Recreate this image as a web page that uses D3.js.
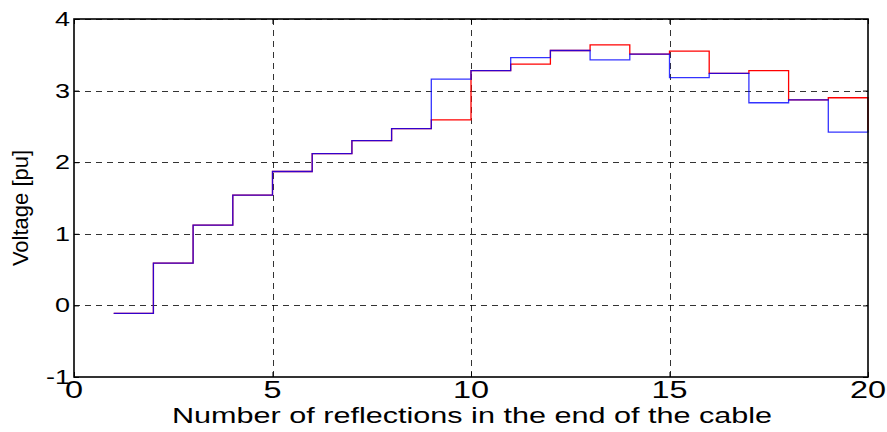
<!DOCTYPE html>
<html>
<head>
<meta charset="utf-8">
<script src="https://cdn.jsdelivr.net/npm/d3@7"></script>
<style>
  html, body { margin: 0; padding: 0; background: #fff; }
  svg { display: block; }
  text { font-family: "Liberation Sans", Arial, sans-serif; fill: #000; }
</style>
</head>
<body>
<svg id="chart" width="887" height="432"></svg>
<script>
// Reflection index (stairs drawn from n to n+1 at each value)
const reflections = d3.range(1, 21);
// Voltage after each reflection, two cases
const voltageRed  = [-0.11, 0.59, 1.12, 1.54, 1.87, 2.12, 2.30, 2.47, 2.59, 3.28,
                      3.37, 3.56, 3.64, 3.51, 3.55, 3.24, 3.28, 2.87, 2.90, 2.45];
const voltageBlue = [-0.11, 0.59, 1.12, 1.54, 1.87, 2.12, 2.30, 2.47, 3.16, 3.28,
                      3.46, 3.56, 3.43, 3.51, 3.18, 3.24, 2.83, 2.87, 2.42, 2.45];
const xTicks = [0, 5, 10, 15, 20];
const yTicks = [-1, 0, 1, 2, 3, 4];

const svg = d3.select("#chart");
const plotLeft = 74, plotRight = 868, plotTop = 19, plotBottom = 377;

const x = d3.scaleLinear().domain([0, 20]).range([plotLeft, plotRight]);
const y = d3.scaleLinear().domain([-1, 4]).range([plotBottom, plotTop]);

// dashed grid
const grid = svg.append("g")
  .attr("stroke", "#000").attr("stroke-width", 1)
  .attr("stroke-dasharray", "6,5").attr("stroke-opacity", 0.8);
grid.selectAll(".gx").data(xTicks.filter(t => t > 0 && t < 20)).join("line")
  .attr("x1", d => Math.round(x(d)) + 0.5).attr("x2", d => Math.round(x(d)) + 0.5)
  .attr("y1", plotBottom).attr("y2", plotTop);
grid.selectAll(".gy").data(yTicks.filter(t => t > -1)).join("line")
  .attr("y1", d => Math.round(y(d)) + 0.5).attr("y2", d => Math.round(y(d)) + 0.5)
  .attr("x1", plotLeft).attr("x2", plotRight);

// stair paths
const line = d3.line()
  .x(d => x(d[0])).y(d => y(d[1]))
  .curve(d3.curveStepAfter);

const seriesData = v => reflections.map((n, i) => [n, v[i]]);

svg.append("path")
  .datum(seriesData(voltageRed))
  .attr("d", line).attr("fill", "none")
  .attr("stroke", "#ff0000").attr("stroke-width", 1.3);

svg.append("path")
  .datum(seriesData(voltageBlue))
  .attr("d", line).attr("fill", "none")
  .attr("stroke", "#0000ff").attr("stroke-width", 1.3).attr("stroke-opacity", 0.8);

// axes frame with inward ticks on all sides
const xAxisB = d3.axisBottom(x).tickValues(xTicks).tickSizeInner(-5).tickSizeOuter(0).tickFormat("");
const xAxisT = d3.axisTop(x).tickValues(xTicks).tickSizeInner(-5).tickSizeOuter(0).tickFormat("");
const yAxisL = d3.axisLeft(y).tickValues(yTicks).tickSizeInner(-5).tickSizeOuter(0).tickFormat("");
const yAxisR = d3.axisRight(y).tickValues(yTicks).tickSizeInner(-5).tickSizeOuter(0).tickFormat("");
svg.append("g").attr("transform", `translate(0,${plotBottom})`).call(xAxisB);
svg.append("g").attr("transform", `translate(0,${plotTop})`).call(xAxisT);
svg.append("g").attr("transform", `translate(${plotLeft},0)`).call(yAxisL);
svg.append("g").attr("transform", `translate(${plotRight},0)`).call(yAxisR);
svg.selectAll(".domain").remove();
svg.selectAll(".tick line").attr("stroke", "#000");

svg.append("rect")
  .attr("x", plotLeft).attr("y", plotTop)
  .attr("width", plotRight - plotLeft).attr("height", plotBottom - plotTop)
  .attr("fill", "none").attr("stroke", "#000").attr("stroke-width", 1.6);

// tick labels (glyphs drawn a little wide)
svg.append("g").selectAll("text").data(xTicks).join("text")
  .attr("transform", d => `translate(${x(d)},398) scale(1.35,1)`)
  .attr("text-anchor", "middle").attr("font-size", 24)
  .text(d => d);
svg.append("g").selectAll("text").data(yTicks).join("text")
  .attr("transform", d => `translate(${plotLeft - 4},${y(d) + 7}) scale(1.35,1)`)
  .attr("text-anchor", "end").attr("font-size", 20)
  .text(d => d);

// axis titles
svg.append("text")
  .attr("transform", "translate(472,423) scale(1.36,1)")
  .attr("text-anchor", "middle").attr("font-size", 22.5)
  .text("Number of reflections in the end of the cable");
svg.append("text")
  .attr("transform", "translate(28,208) rotate(-90)")
  .attr("text-anchor", "middle").attr("font-size", 22)
  .text("Voltage [pu]");
</script>
</body>
</html>
